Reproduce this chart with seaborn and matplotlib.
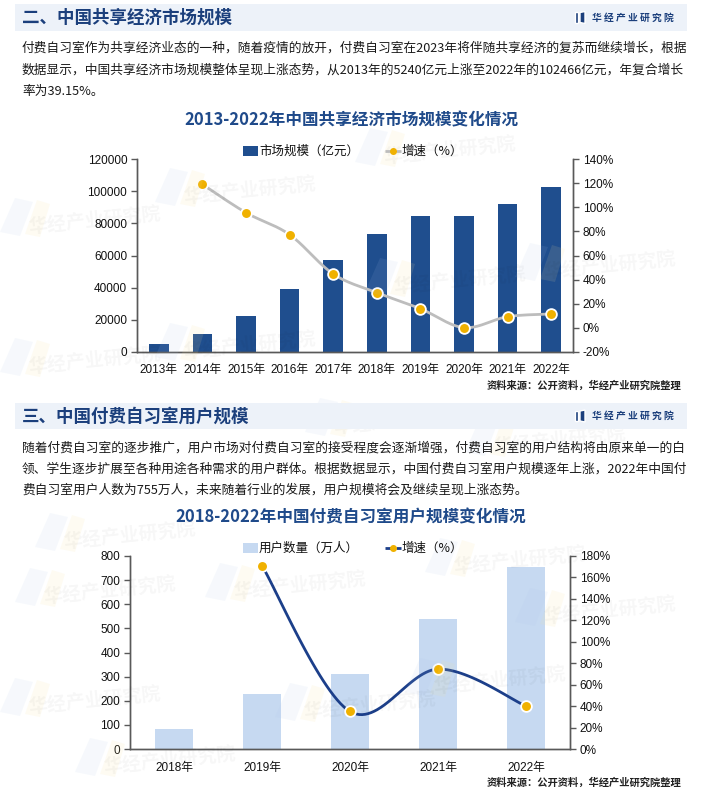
import numpy as np
import pandas as pd
import matplotlib
matplotlib.use("Agg")
import matplotlib.pyplot as plt
import seaborn as sns
from matplotlib.patches import Rectangle, Polygon
from matplotlib.lines import Line2D
from matplotlib.ticker import FixedLocator, MultipleLocator, FuncFormatter

# ---------------- data ----------------
years1 = ["2013年", "2014年", "2015年", "2016年", "2017年", "2018年", "2019年", "2020年", "2021年", "2022年"]
market_size = [5240, 11200, 22400, 39450, 57200, 73400, 84600, 84600, 92000, 102466]
market_growth = [np.nan, 119.0, 95.5, 77.3, 44.7, 29.2, 15.9, 0.2, 9.3, 11.5]

years2 = ["2018年", "2019年", "2020年", "2021年", "2022年"]
users = [84, 229, 311, 539, 755]
user_growth = [np.nan, 171.0, 35.0, 74.5, 40.0]

title1 = "二、中国共享经济市场规模"
title2 = "三、中国付费自习室用户规模"
para1 = ["付费自习室作为共享经济业态的一种，随着疫情的放开，付费自习室在2023年将伴随共享经济的复苏而继续增长，根据",
         "数据显示，中国共享经济市场规模整体呈现上涨态势，从2013年的5240亿元上涨至2022年的102466亿元，年复合增长",
         "率为39.15%。"]
para2 = ["随着付费自习室的逐步推广，用户市场对付费自习室的接受程度会逐渐增强，付费自习室的用户结构将由原来单一的白",
         "领、学生逐步扩展至各种用途各种需求的用户群体。根据数据显示，中国付费自习室用户规模逐年上涨，2022年中国付",
         "费自习室用户人数为755万人，未来随着行业的发展，用户规模将会及继续呈现上涨态势。"]
chart_title1 = "2013-2022年中国共享经济市场规模变化情况"
chart_title2 = "2018-2022年中国付费自习室用户规模变化情况"
leg_bar1 = "市场规模（亿元）"
leg_bar2 = "用户数量（万人）"
leg_line = "增速（%）"
source = "资料来源：公开资料，华经产业研究院整理"
brand = "华经产业研究院"

# ---------------- style ----------------
sns.set_theme(style="white")
plt.rcParams["font.family"] = ["Noto Sans CJK SC", "DejaVu Sans"]
NUMFONT = ["Liberation Sans", "Noto Sans CJK SC"]

W, H = 702, 792
fig = plt.figure(figsize=(W / 100, H / 100), dpi=100)
fig.patch.set_facecolor("white")

def fx(x):
    return x / W

def fy(y):
    return 1 - y / H

def pt(px):
    return px * 72 / 100

DARK = "#1b3f7c"
TITLEBLUE = "#1f4a8a"
BAR1 = "#1f4e8e"
BAR2 = "#c6d9f1"
ORANGE = "#f0b100"
SPINE = "#595959"

# ---------------- watermarks ----------------
wm_pos = [(250, 190), (95, 220), (250, 345), (95, 360), (450, 150), (610, 265),
          (460, 280), (400, 420), (130, 535), (110, 590), (520, 560), (300, 585), (610, 610),
          (370, 705), (170, 760), (500, 680), (95, 700), (560, 440)]
for (x, y) in wm_pos:
    fig.text(fx(x), fy(y), brand, fontsize=pt(19), fontweight="bold", color="#000000",
             alpha=0.035, rotation=6, ha="center", va="center", zorder=0)
    fig.patches.append(Polygon([[fx(x - 95), fy(y + 12)], [fx(x - 80), fy(y - 22)],
                                [fx(x - 62), fy(y - 18)], [fx(x - 75), fy(y + 16)]],
                               closed=True, transform=fig.transFigure, facecolor="#a9c3e8",
                               alpha=0.1, edgecolor="none", zorder=0))
    fig.patches.append(Polygon([[fx(x - 70), fy(y + 14)], [fx(x - 58), fy(y - 20)],
                                [fx(x - 45), fy(y - 16)], [fx(x - 55), fy(y + 17)]],
                               closed=True, transform=fig.transFigure, facecolor="#f7e29a",
                               alpha=0.12, edgecolor="none", zorder=0))

# ---------------- header bands ----------------
def header(y0, y1, text):
    fig.patches.append(Rectangle((fx(15), fy(y1)), fx(672), (y1 - y0) / H,
                                 transform=fig.transFigure, facecolor="#edf2f9",
                                 edgecolor="none", zorder=1))
    fig.text(fx(22), fy((y0 + y1) / 2 + 0.5), text, fontsize=pt(17.5), fontweight="bold",
             color=DARK, ha="left", va="center", zorder=2)
    yc = (y0 + y1) / 2
    fig.patches.append(Rectangle((fx(575), fy(yc + 5)), fx(3), 10 / H,
                                 transform=fig.transFigure, facecolor=DARK, zorder=2))
    fig.patches.append(Polygon([[fx(580), fy(yc + 5)], [fx(580), fy(yc - 5)],
                                [fx(585), fy(yc - 6)], [fx(585), fy(yc + 6)]],
                               closed=True, transform=fig.transFigure, facecolor=DARK, zorder=2))
    fig.text(fx(592), fy(yc), " ".join(brand), fontsize=pt(9.8), fontweight="bold",
             color=DARK, ha="left", va="center", zorder=2)

header(4, 31, title1)
header(403, 429, title2)

def paragraph(lines, ys):
    for t, y in zip(lines, ys):
        fig.text(fx(22), fy(y), t, fontsize=pt(12.7), color="#1a1a1a", ha="left", va="center")

paragraph(para1, [48, 70, 91])
paragraph(para2, [448, 469, 490])

# ---------------- smoothing helper (Catmull-Rom, display of line only) ----------------
def smooth(xs, ys, n=30):
    pts = np.column_stack([xs, ys])
    out = []
    for i in range(len(pts) - 1):
        p0 = pts[i - 1] if i > 0 else pts[i]
        p1, p2 = pts[i], pts[i + 1]
        p3 = pts[i + 2] if i + 2 < len(pts) else pts[i + 1]
        c1 = p1 + (p2 - p0) / 6
        c2 = p2 - (p3 - p1) / 6
        t = np.linspace(0, 1, n)[:, None]
        seg = (1 - t) ** 3 * p1 + 3 * (1 - t) ** 2 * t * c1 + 3 * (1 - t) * t ** 2 * c2 + t ** 3 * p2
        out.append(seg if i == 0 else seg[1:])
    s = np.vstack(out)
    return s[:, 0], s[:, 1]

def style_axes(ax, ax2, n):
    for a in (ax, ax2):
        a.set_facecolor("none")
        a.spines["top"].set_visible(False)
        for s in ("left", "right", "bottom"):
            a.spines[s].set_color(SPINE)
            a.spines[s].set_linewidth(1.0)
        a.grid(False)
    ax.set_xlim(-0.5, n - 0.5)
    ax.set_xticks(np.arange(n))
    ax.xaxis.set_minor_locator(FixedLocator(np.arange(n + 1) - 0.5))
    ax.tick_params(axis="x", which="major", length=0, pad=9)
    ax.tick_params(axis="x", which="minor", length=4, color=SPINE, width=1, direction="out")
    ax.tick_params(axis="y", length=4, color=SPINE, width=1, direction="out", pad=3)
    ax2.tick_params(axis="y", length=4, color=SPINE, width=1, direction="out", pad=3)
    for lab in ax.get_xticklabels() + ax.get_yticklabels() + ax2.get_yticklabels():
        lab.set_fontfamily(NUMFONT)
        lab.set_fontsize(pt(11.8))
        lab.set_color("#111111")
    ax.set_xlabel("")
    ax.set_ylabel("")
    ax2.set_ylabel("")

def legend(y, bar_color, bar_text, line_color):
    fig.patches.append(Rectangle((fx(243), fy(y + 5)), fx(15), 10 / H, transform=fig.transFigure,
                                 facecolor=bar_color, edgecolor="none"))
    fig.text(fx(259), fy(y), bar_text, fontsize=pt(12.5), color="#111111", ha="left", va="center")
    fig.add_artist(Line2D([fx(385), fx(401)], [fy(y), fy(y)], transform=fig.transFigure,
                          color=line_color, lw=2, linestyle=(0, (2.5, 1.5))))
    fig.add_artist(Line2D([fx(393)], [fy(y)], transform=fig.transFigure, marker="o",
                          markersize=pt(7), markerfacecolor=ORANGE, markeredgecolor="none"))
    fig.text(fx(402), fy(y), leg_line, fontsize=pt(12.5), color="#111111", ha="left", va="center")

# ---------------- chart 1 ----------------
df1 = pd.DataFrame({"year": years1, "size": market_size, "growth": market_growth})
ax1 = fig.add_axes([fx(137), fy(352), fx(573 - 137), (352 - 159) / H])
sns.barplot(data=df1, x="year", y="size", color=BAR1, saturation=1, width=0.45, ax=ax1,
            edgecolor="none", zorder=2)
ax1.set_ylim(0, 120000)
ax1.yaxis.set_major_locator(MultipleLocator(20000))
ax1.yaxis.set_major_formatter(FuncFormatter(lambda v, p: f"{v:.0f}"))
ax1b = ax1.twinx()
ax1b.set_ylim(-20, 140)
ax1b.yaxis.set_major_locator(MultipleLocator(20))
ax1b.yaxis.set_major_formatter(FuncFormatter(lambda v, p: f"{v:.0f}%"))
pos1 = np.arange(len(years1))
m1 = ~np.isnan(df1["growth"].values)
sx, sy = smooth(pos1[m1], df1["growth"].values[m1])
ax1b.plot(sx, sy, color="#bdbdbd", lw=2, zorder=3)
sns.scatterplot(x=pos1[m1], y=df1["growth"].values[m1], ax=ax1b, color=ORANGE, s=60,
                edgecolor="white", linewidth=1.3, zorder=4, legend=False)
style_axes(ax1, ax1b, len(years1))

fig.text(fx(351), fy(120), chart_title1, fontsize=pt(16.6), fontweight="bold", color=TITLEBLUE,
         ha="center", va="center")
legend(151, BAR1, leg_bar1, "#bdbdbd")
fig.text(fx(681), fy(386), source, fontsize=pt(10.3), fontweight="bold", color="#222222",
         ha="right", va="center")

# ---------------- chart 2 ----------------
df2 = pd.DataFrame({"year": years2, "users": users, "growth": user_growth})
ax2 = fig.add_axes([fx(130), fy(749), fx(570 - 130), (749 - 556) / H])
sns.barplot(data=df2, x="year", y="users", color=BAR2, saturation=1, width=0.44, ax=ax2,
            edgecolor="none", zorder=2)
ax2.set_ylim(0, 800)
ax2.yaxis.set_major_locator(MultipleLocator(100))
ax2b = ax2.twinx()
ax2b.set_ylim(0, 180)
ax2b.yaxis.set_major_locator(MultipleLocator(20))
ax2b.yaxis.set_major_formatter(FuncFormatter(lambda v, p: f"{v:.0f}%"))
pos2 = np.arange(len(years2))
m2 = ~np.isnan(df2["growth"].values)
sx, sy = smooth(pos2[m2], df2["growth"].values[m2])
ax2b.plot(sx, sy, color="#1c3f8a", lw=2, zorder=3)
sns.scatterplot(x=pos2[m2], y=df2["growth"].values[m2], ax=ax2b, color=ORANGE, s=60,
                edgecolor="white", linewidth=1.3, zorder=4, legend=False)
style_axes(ax2, ax2b, len(years2))

fig.text(fx(351), fy(517), chart_title2, fontsize=pt(16.6), fontweight="bold", color=TITLEBLUE,
         ha="center", va="center")
legend(548, BAR2, leg_bar2, "#1c3f8a")
fig.text(fx(681), fy(783), source, fontsize=pt(10.3), fontweight="bold", color="#222222",
         ha="right", va="center")

fig.savefig("out.png", dpi=100, facecolor="white")
